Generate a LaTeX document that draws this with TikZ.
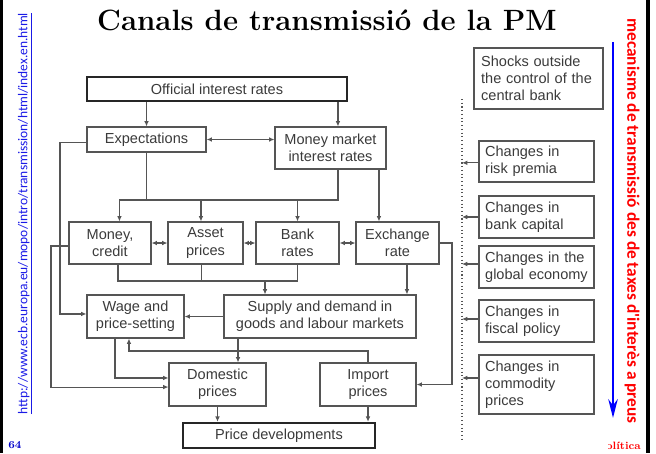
\documentclass[tikz,border=0pt]{standalone}
\usepackage{fontspec}
\setsansfont{Liberation Sans}
\newfontfamily\calfont{Carlito}
\usetikzlibrary{arrows.meta}
\definecolor{linegray}{HTML}{555555}
\definecolor{txtgray}{HTML}{3A3A3A}
\definecolor{urlblue}{HTML}{1A1AE6}

\begin{document}
\begin{tikzpicture}[x=0.75pt,y=-0.75pt,
  box/.style={draw=linegray, line width=0.8pt, text=txtgray, align=center, inner sep=0pt,
    font=\sffamily\fontsize{10.9}{12.8}\selectfont},
  sized/.style 2 args={minimum width=#1*0.75pt, minimum height=#2*0.75pt},
  heavy/.style={draw=black!85, line width=1.8pt},
  leftbox/.style={box, align=left, text width=#1},
  link/.style={draw=linegray, line width=0.8pt},
  arr/.style={link, -{Latex[length=4pt,width=3.5pt]}},
  darr/.style={link, {Latex[length=4pt,width=3.5pt]}-{Latex[length=4pt,width=3.5pt]}}]
  \useasboundingbox (0,0) rectangle (656,453);

  % Slide frame and title
  \fill[black] (0,0) rectangle (3,453);
  \fill[black] (646,0) rectangle (650,453);
  \node[font=\bfseries\fontsize{22}{22}\selectfont] (title) at (327,20) {Canals de transmissió de la PM};

  % Transmission channels
  \node[box, heavy, sized={260}{24}] (official) at (217,89) {Official interest rates};
  \node[box, sized={119}{25}] (expect) at (146.5,139.5) {Expectations};
  \node[box, sized={111}{42}] (mmrates) at (330.5,148) {Money market\\interest rates};
  \node[box, sized={82}{42}] (money) at (110,243) {Money,\\credit};
  \node[box, sized={75}{42}] (asset) at (205.5,243) {Asset\\prices};
  \node[box, sized={83}{42}] (bank) at (297.5,243) {Bank\\rates};
  \node[box, sized={83}{42}] (exch) at (397.5,243) {Exchange\\rate};
  \node[box, sized={97}{43}] (wage) at (135.5,316.5) {Wage and\\price-setting};
  \node[box, sized={192}{43}] (supply) at (320,316.5) {Supply and demand in\\goods and labour markets};
  \node[box, sized={97}{43}] (domestic) at (217.5,384.5) {Domestic\\prices};
  \node[box, sized={96}{43}] (import) at (368,384.5) {Import\\prices};
  \node[box, heavy, sized={192}{25}] (pricedev) at (279,435.5) {Price developments};

  % Shocks outside the central bank
  \node[leftbox=86pt, line width=1.4pt, sized={129}{61}] (shocks) at (538.5,78.5) {Shocks outside\\the control of the\\central bank};
  \node[leftbox=77pt, sized={115}{41}] (risk) at (536.5,161.5) {Changes in\\risk premia};
  \node[leftbox=77pt, sized={115}{42}] (capital) at (536.5,217) {Changes in\\bank capital};
  \node[leftbox=77pt, sized={115}{42}] (global) at (536.5,267) {Changes in the\\global economy};
  \node[leftbox=77pt, sized={115}{42}] (fiscal) at (536.5,321) {Changes in\\fiscal policy};
  \node[leftbox=77pt, sized={115}{59}] (commodity) at (536.5,384.5) {Changes in\\commodity\\prices};

  % Helper points for the bends
  \coordinate (busA) at (0,200);
  \coordinate (busB) at (0,281);
  \coordinate (busC) at (0,351);
  \coordinate (railL) at (51,0);
  \coordinate (railM) at (60,0);
  \coordinate (railR) at (452,0);
  \coordinate (dtop) at (462,99);
  \coordinate (dbot) at (462,440);
  \coordinate (mmtop) at ([xshift=5.6pt]mmrates.north);
  \coordinate (mmbot) at ([xshift=5.6pt]mmrates.south);
  \coordinate (exchtop) at ([xshift=-13.9pt]exch.north);
  \coordinate (exchbot) at ([xshift=7.1pt]exch.south);
  \coordinate (moneytop) at ([xshift=7.1pt]money.north);
  \coordinate (moneybot) at ([xshift=6pt]money.south);
  \coordinate (assettop) at ([xshift=-3.4pt]asset.north);
  \coordinate (assetbot) at ([xshift=-3pt]asset.south);
  \coordinate (supplytop) at ([xshift=-41.25pt]supply.north);
  \coordinate (supplybot) at ([xshift=-61.5pt]supply.south);
  \coordinate (wagebotA) at ([xshift=-15.4pt]wage.south);
  \coordinate (wagebotB) at ([xshift=-4.9pt]wage.south);
  \coordinate (domwestA) at ([yshift=4.9pt]domestic.west);
  \coordinate (domwestB) at ([yshift=-1.9pt]domestic.west);
  \coordinate (moneywest) at ([yshift=-2.25pt]money.west);
  \coordinate (expwest) at ([yshift=-1.9pt]expect.west);
  \coordinate (wagewest) at ([yshift=1.9pt]wage.west);

  % Official rates to expectations and money market
  \draw[arr] (official.south -| expect.north) -- (expect.north);
  \draw[arr] (mmtop |- official.south) -- (mmtop);
  \draw[darr] (expect.east) -- (expect.east -| mmrates.west);
  \draw[link] (expect.south) -- (expect.south |- busA);
  \draw[link] (mmbot) -- (mmbot |- busA) -- (moneytop |- busA);
  \foreach \t in {moneytop, assettop, bank.north}
    \draw[arr] (\t |- busA) -- (\t);
  \draw[arr] (exchtop |- mmrates.south) -- (exchtop);

  % Links between the channels
  \draw[darr] (money) -- (asset);
  \draw[darr] (asset) -- (bank);
  \draw[darr] (bank) -- (exch);

  % Channels to supply and demand
  \draw[link] (moneybot) -- (moneybot |- busB) -- (bank.south |- busB) -- (bank.south);
  \draw[link] (assetbot) -- (assetbot |- busB);
  \draw[arr] (supplytop |- busB) -- (supplytop);
  \draw[arr] (exchbot) -- (exchbot |- supply.north);
  \draw[arr] (exch.east) -- (exch.east -| railR) |- (import.east);

  % Prices
  \draw[arr] (supply) -- (wage);
  \draw[arr] (supplybot) -- (supplybot |- domestic.north);
  \draw[arr] (import.north) -- (import.north |- busC) -| (wagebotB);
  \draw[arr] (wagebotA) |- (domwestA);
  \draw[arr] (moneywest) -- (moneywest -| railL) |- (domwestB);
  \draw[arr] (expwest) -- (expwest -| railM) |- (wagewest);
  \draw[arr] (domestic.south) -- (domestic.south |- pricedev.north);
  \draw[arr] (import.south) -- (import.south |- pricedev.north);

  % Shocks feed in across the dotted line
  \draw[linegray, dotted, line width=0.8pt] (dtop) -- (dbot);
  \foreach \n/\s in {risk/-1pt, capital/0pt, global/2.25pt, fiscal/1.5pt, commodity/4.9pt}
    \draw[arr] ([yshift=\s]\n.west) -- ([yshift=\s]\n.west -| dtop);

  % Side texts
  \coordinate (flowtop) at (613,42);
  \coordinate (flowbot) at (613,418);
  \draw[blue, line width=2.2pt, -{Stealth[length=14pt,width=7pt]}] (flowtop) -- (flowbot);
  \node[rotate=-90, text=red, font=\calfont\bfseries\fontsize{13}{13}\selectfont] (mech) at (632,221) {mecanisme de transmissió des de taxes d'interès a preus};
  \node[rotate=90, text=urlblue, font=\calfont\fontsize{10.1}{10.1}\selectfont] (url) at (25,213.5) {\underline{http://www.ecb.europa.eu/mopo/intro/transmission/html/index.en.html}};
  \node[text=blue!80!black, font=\bfseries\fontsize{8}{8}\selectfont] (page) at (15,445) {64};
  \begin{scope}
    \clip (608,430) rectangle (646,453);
    \node[text=red, font=\bfseries\fontsize{8}{8}\selectfont, anchor=east] (footer) at (645.5,446) {Política};
  \end{scope}
\end{tikzpicture}
\end{document}
